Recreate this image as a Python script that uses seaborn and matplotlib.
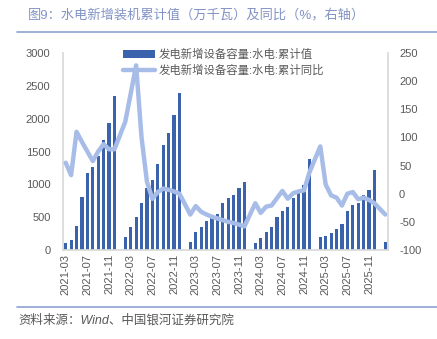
import matplotlib
matplotlib.use("Agg")
import matplotlib.pyplot as plt
from matplotlib.lines import Line2D
import numpy as np
import pandas as pd
import seaborn as sns

# ---------------- data ----------------
months = ([f"2021-{m:02d}" for m in range(3, 13)]
          + [f"{y}-{m:02d}" for y in range(2022, 2026) for m in range(1, 13)]
          + ["2026-01", "2026-02"])

cum_2021 = [107, 152, 365, 812, 1178, 1269, 1431, 1677, 1940, 2352]
cum_2022 = [None, 193, 345, 503, 711, 939, 1066, 1310, 1594, 1777, 2061, 2387]
cum_2023 = [None, 127, 269, 355, 437, 533, 550, 721, 787, 843, 939, 1036]
cum_2024 = [None, 102, 188, 269, 345, 503, 589, 655, 797, 873, 990, 1381]
cum_2025 = [None, 193, 213, 264, 325, 396, 589, 680, 716, 838, 914, 1218]
cum_2026 = [None, 122]

yoy_2021 = [55, 33, 110, 92, 75, 58, 75, 88, 79, 79]
yoy_2022 = [None, 128, 178, 228, 100, 21, -9, 3, 9, 7, 4, 0]
yoy_2023 = [None, -37, -22, -32, -37, -41, -44, -47, -50, -52, -55, -58]
yoy_2024 = [None, -17, -34, -23, -21, -8, 5, -9, 1, 4, 6, 38]
yoy_2025 = [None, 84, 16, -3, -7, -21, 0, 3, -10, -7, -11, -17]
yoy_2026 = [None, -37]

cum = cum_2021 + cum_2022 + cum_2023 + cum_2024 + cum_2025 + cum_2026
yoy = yoy_2021 + yoy_2022 + yoy_2023 + yoy_2024 + yoy_2025 + yoy_2026

bar_label = "发电新增设备容量:水电:累计值"
line_label = "发电新增设备容量:水电:累计同比"
title = "图9：水电新增装机累计值（万千瓦）及同比（%，右轴）"
source = "资料来源：Wind、中国银河证券研究院"

left_ticks = [0, 500, 1000, 1500, 2000, 2500, 3000]
right_ticks = [-100, -50, 0, 50, 100, 150, 200, 250]

# ---------------- style ----------------
sns.set_theme(style="white")
plt.rcParams["font.family"] = ["Liberation Sans", "Noto Sans CJK SC", "DejaVu Sans"]
plt.rcParams["axes.unicode_minus"] = False

BAR = "#3B62AD"
LINE = "#A7BDE8"
TXT = "#595959"
ACC = "#8FA3D3"

df = pd.DataFrame({"month": months, "pos": np.arange(len(months)),
                   "cum": pd.to_numeric(pd.Series(cum), errors="coerce"),
                   "yoy": pd.to_numeric(pd.Series(yoy), errors="coerce")})
bar_df = df.dropna(subset=["cum"])
line_df = df.dropna(subset=["yoy"])

W, H = 437, 339
fig = plt.figure(figsize=(W / 100, H / 100), dpi=100)
ax = fig.add_axes([63 / W, 1 - 250 / H, 325 / W, 197 / H])

sns.barplot(data=bar_df, x="pos", y="cum", native_scale=True, color=BAR,
            saturation=1, width=0.58, errorbar=None, ax=ax, label=bar_label,
            edgecolor=BAR, linewidth=0)
ax.set_xlim(-0.5, len(months) - 0.5)
ax.set_ylim(0, 3000)
ax.set_yticks(left_ticks)
ax.set_xticks(df["pos"][::4])
ax.set_xticklabels(df["month"][::4], rotation=90)
ax.set_xlabel("")
ax.set_ylabel("")

ax2 = ax.twinx()
sns.lineplot(data=line_df, x="pos", y="yoy", color=LINE, linewidth=3.2,
             ax=ax2, label=line_label, sort=True)
ax2.set_ylim(-100, 250)
ax2.set_yticks(right_ticks)
ax2.set_ylabel("")
ax2.set_xlim(-0.5, len(months) - 0.5)

for a in (ax, ax2):
    for s in a.spines.values():
        s.set_visible(False)
    a.tick_params(length=0, colors=TXT, labelsize=8)
    a.grid(False)
ax.spines["left"].set_visible(True)
ax.spines["left"].set_color("#D9D9D9")
ax.spines["bottom"].set_visible(True)
ax.spines["bottom"].set_color("#D9D9D9")
ax2.spines["right"].set_visible(True)
ax2.spines["right"].set_color("#D9D9D9")
ax.tick_params(axis="y", pad=9)
ax.tick_params(axis="x", pad=3)
ax2.tick_params(axis="y", pad=8)

# legend
if ax.get_legend():
    ax.get_legend().remove()
h1, l1 = ax.get_legend_handles_labels()
h2, l2 = ax2.get_legend_handles_labels()
leg = ax2.legend(h1 + h2, l1 + l2, loc="upper left",
                 bbox_to_anchor=(123 / W, 1 - 49 / H), bbox_transform=fig.transFigure,
                 frameon=False, fontsize=8.2, handlelength=2.8, handletextpad=0.35,
                 labelspacing=0.35, borderpad=0, borderaxespad=0)
for t in leg.get_texts():
    t.set_color(TXT)

# title, rules, source
fig.text(28 / W, 1 - 15 / H, title, fontsize=9.5, color="#8294C6", ha="left", va="center")
fig.add_artist(Line2D([17 / W, 1], [1 - 32 / H] * 2, color=ACC, lw=1.2))
fig.add_artist(Line2D([17 / W, 1], [1 - 307 / H] * 2, color=ACC, lw=1.2))
fig.text(18 / W, 1 - 321 / H, source, fontsize=9, color=TXT, ha="left", va="center",
         style="italic")

fig.savefig("out.png", dpi=100)
